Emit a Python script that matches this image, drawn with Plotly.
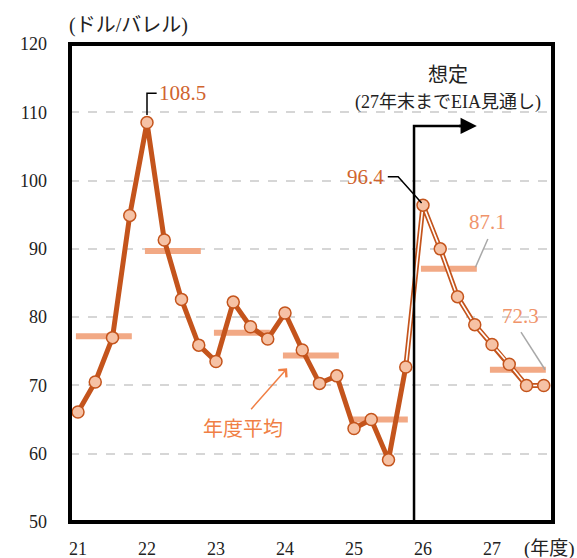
import plotly.graph_objects as go

# ---- data ----
fiscal_years = [21, 22, 23, 24, 25, 26, 27]
quarterly_prices = [
    66.1, 70.5, 77.0, 94.9,   # FY21
    108.5, 91.3, 82.6, 75.9,  # FY22
    73.5, 82.2, 78.6, 76.8,   # FY23
    80.6, 75.2, 70.3, 71.4,   # FY24
    63.7, 65.0, 59.1, 72.7,   # FY25
    96.4, 90.0, 83.0, 78.9,   # FY26 (forecast)
    76.0, 73.1, 70.0, 70.0,   # FY27 (forecast)
]
annual_avg = [77.2, 89.7, 77.7, 74.4, 65.0, 87.1, 72.3]
forecast_start_index = 19  # 25Q4 onward drawn as forecast line
y_ticks = [50, 60, 70, 80, 90, 100, 110, 120]
x_tick_labels = ["21", "22", "23", "24", "25", "26", "27"]

# ---- styles ----
DARK = "#C4541C"
FILL = "#F6C2A5"
AVG = "#F2A985"
SERIF = "Liberation Serif, Noto Sans CJK JP"

xq = [fy + q / 4 for fy in fiscal_years for q in range(4)]

fig = go.Figure()

# annual average bars
bx, by = [], []
for fy, v in zip(fiscal_years, annual_avg):
    bx += [fy - 0.03, fy + 0.78, None]
    by += [v, v, None]
fig.add_trace(go.Scatter(x=bx, y=by, mode="lines",
                         line=dict(color=AVG, width=6), hoverinfo="skip"))

# actual line
fi = forecast_start_index
fig.add_trace(go.Scatter(x=xq[:fi + 1], y=quarterly_prices[:fi + 1], mode="lines",
                         line=dict(color=DARK, width=5), hoverinfo="skip"))
# forecast double line
fig.add_trace(go.Scatter(x=xq[fi:], y=quarterly_prices[fi:], mode="lines",
                         line=dict(color=DARK, width=5), hoverinfo="skip"))
fig.add_trace(go.Scatter(x=xq[fi:], y=quarterly_prices[fi:], mode="lines",
                         line=dict(color="white", width=1.6), hoverinfo="skip"))
# markers
fig.add_trace(go.Scatter(x=xq, y=quarterly_prices, mode="markers",
                         marker=dict(size=12, color=FILL, line=dict(color=DARK, width=1.5)),
                         hoverinfo="skip"))

shapes = []
# plot frame
shapes.append(dict(type="rect", xref="paper", yref="paper", x0=0, y0=0, x1=1, y1=1,
                   line=dict(color="black", width=4)))
# forecast divider with arrow
shapes.append(dict(type="path", xref="x", yref="y",
                   path="M 25.87 50 L 25.87 108.0 L 26.6 108.0",
                   line=dict(color="black", width=2.5)))
# leader lines
shapes.append(dict(type="path", xref="x", yref="y",
                   path="M 22.0 109.6 L 22.0 112.8 L 22.14 112.8",
                   line=dict(color="black", width=1.5)))
shapes.append(dict(type="path", xref="x", yref="y",
                   path="M 25.49 100.55 L 25.64 100.55 L 25.98 96.7",
                   line=dict(color="black", width=1.5)))
shapes.append(dict(type="line", xref="x", yref="y",
                   x0=26.94, y0=91.45, x1=26.76, y1=87.3,
                   line=dict(color="#A8A8A8", width=1.5)))
shapes.append(dict(type="line", xref="x", yref="y",
                   x0=27.42, y0=77.8, x1=27.77, y1=72.3,
                   line=dict(color="#A8A8A8", width=1.5)))

annotations = []
# arrowhead for forecast
annotations.append(dict(x=26.78, y=108.0, ax=26.5, ay=108.0, xref="x", yref="y",
                        axref="x", ayref="y", showarrow=True, arrowhead=2,
                        arrowsize=1.3, arrowwidth=2.5, arrowcolor="black", text=""))
annotations.append(dict(x=26.36, y=115.4, xref="x", yref="y", text="想定",
                        showarrow=False, font=dict(family=SERIF, size=20, color="#222")))
annotations.append(dict(x=26.36, y=111.5, xref="x", yref="y", text="(27年末までEIA見通し)",
                        showarrow=False, font=dict(family=SERIF, size=18, color="#222")))
# value labels
annotations.append(dict(x=22.15, y=112.8, xref="x", yref="y", text="108.5", xanchor="left",
                        showarrow=False, font=dict(family=SERIF, size=21, color="#D0642E")))
annotations.append(dict(x=25.47, y=100.55, xref="x", yref="y", text="96.4", xanchor="right",
                        showarrow=False, font=dict(family=SERIF, size=21, color="#D0642E")))
annotations.append(dict(x=26.93, y=94.0, xref="x", yref="y", text="87.1",
                        showarrow=False, font=dict(family=SERIF, size=21, color="#F0946A")))
annotations.append(dict(x=27.41, y=80.1, xref="x", yref="y", text="72.3",
                        showarrow=False, font=dict(family=SERIF, size=21, color="#F0946A")))
# annual average callout
annotations.append(dict(x=24.03, y=72.5, ax=23.49, ay=66.3, xref="x", yref="y",
                        axref="x", ayref="y", showarrow=True, arrowhead=4,
                        arrowsize=1.4, arrowwidth=1.5, arrowcolor="#F07F45", text=""))
annotations.append(dict(x=23.39, y=63.9, xref="x", yref="y", text="年度平均",
                        showarrow=False, font=dict(family="Noto Sans CJK JP", size=20, color="#F07F45")))
# axis unit labels
annotations.append(dict(x=0.0, y=1.0, xref="paper", yref="paper", xshift=-3, yshift=19,
                        text="(ドル/バレル)", xanchor="left", yanchor="middle",
                        showarrow=False, font=dict(family=SERIF, size=20, color="#222")))
annotations.append(dict(x=1.0, y=0, xref="paper", yref="paper", xshift=24,
                        yshift=-14, text="(年度)", xanchor="right", yanchor="top",
                        showarrow=False, font=dict(family=SERIF, size=19, color="#222")))

fig.update_layout(
    width=577, height=558,
    margin=dict(l=70, r=24, t=43.7, b=36.2, pad=0),
    paper_bgcolor="white", plot_bgcolor="white",
    showlegend=False,
    shapes=shapes,
    annotations=annotations,
    xaxis=dict(range=[20.884, 27.884], tickmode="array", tickvals=fiscal_years,
               ticktext=x_tick_labels, showgrid=False, zeroline=False,
               showline=False, ticks="", ticklabelstandoff=14, automargin=False,
               tickfont=dict(family=SERIF, size=18, color="#222")),
    yaxis=dict(range=[50, 120], tickvals=y_ticks, showgrid=True,
               gridcolor="#D6D6D6", griddash="dash", gridwidth=1.5,
               zeroline=False, showline=False, ticks="", ticklabelstandoff=22,
               automargin=False,
               tickfont=dict(family=SERIF, size=18, color="#222")),
)

fig.write_html("out.html", config={"displayModeBar": False},
               post_script="document.body.style.margin='0';")
